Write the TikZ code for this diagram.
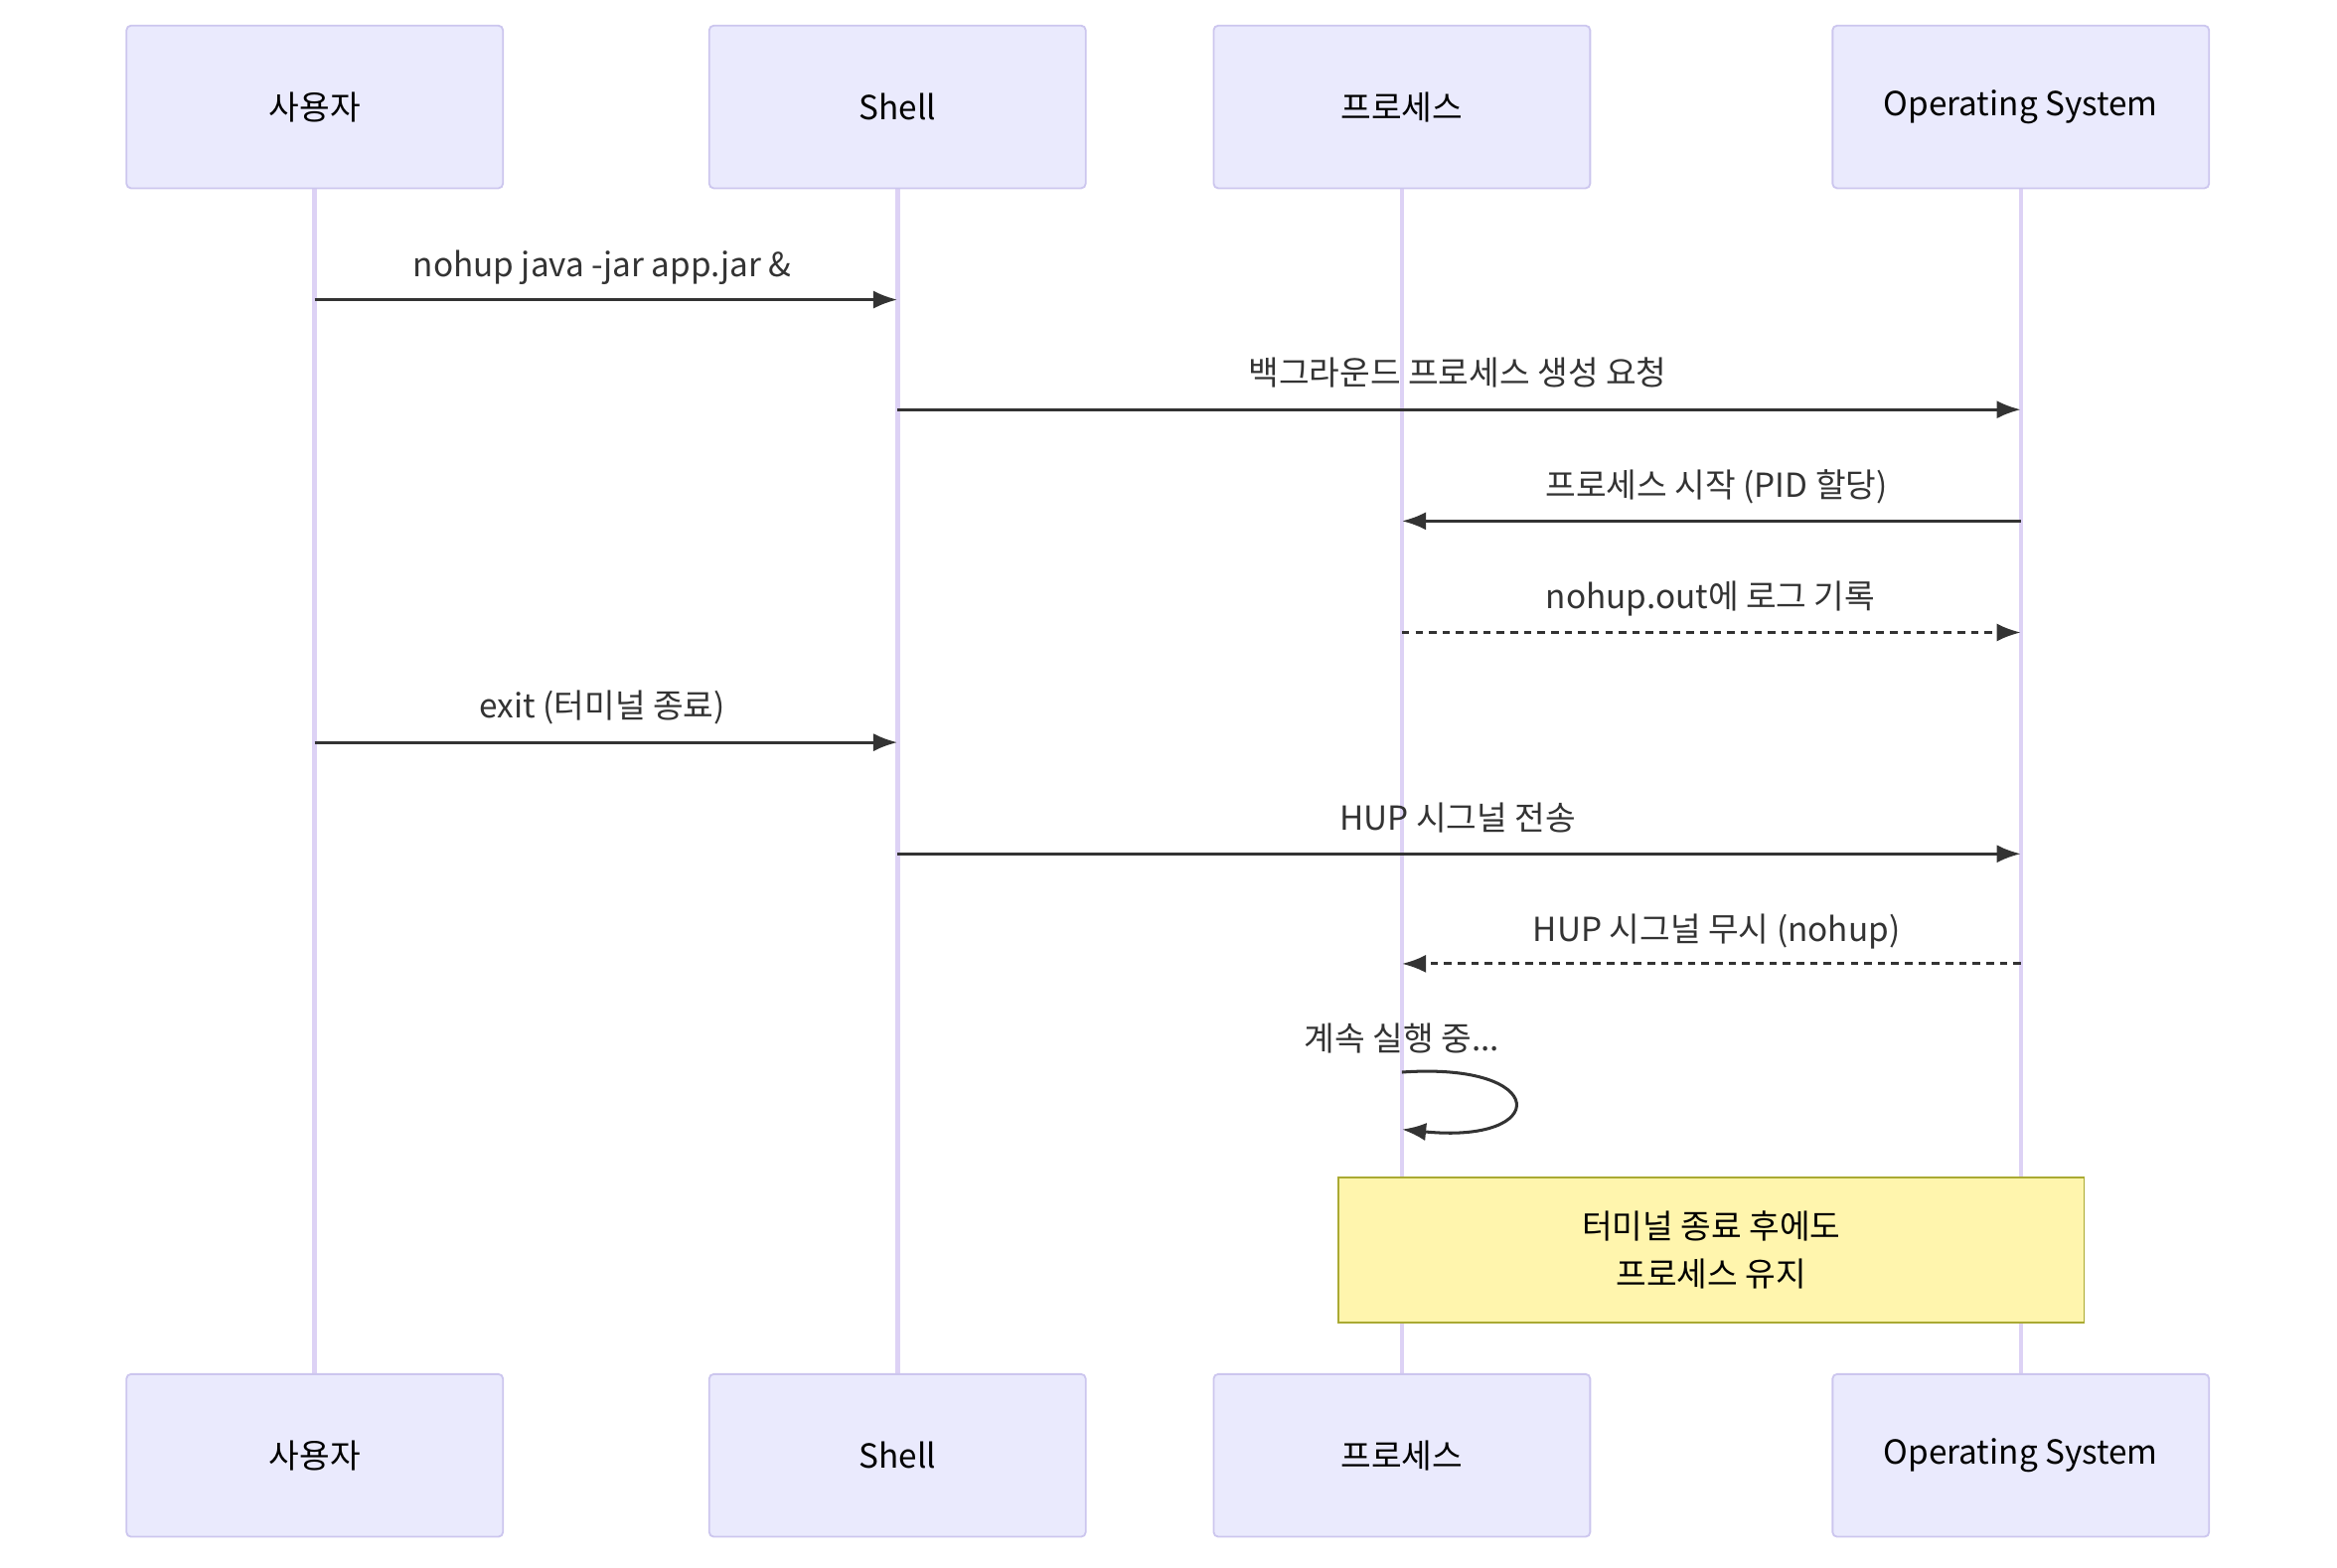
\documentclass[tikz,border=0pt]{standalone}
\usepackage{fontspec}
\setmainfont{Noto Sans CJK KR}
\usetikzlibrary{arrows.meta}
\definecolor{actf}{HTML}{EAEAFD}
\definecolor{actd}{HTML}{CCC6EE}
\definecolor{lifel}{HTML}{DDD2F5}
\definecolor{ink}{HTML}{333333}
\definecolor{notef}{HTML}{FFF5AD}
\definecolor{noted}{HTML}{AAAA33}
\begin{document}
\begin{tikzpicture}[x=1pt,y=-1pt,
 actor/.style={draw=actd,fill=actf,line width=1.2pt,rounded corners=3pt,minimum width=250pt,minimum height=108pt,font=\fontsize{22}{26}\selectfont,text=black},
 life/.style={draw=lifel,line width=3pt},
 msg/.style={draw=ink,line width=2pt,-{Latex[length=16pt,width=12pt]}},
 dmsg/.style={msg,dash pattern=on 5pt off 4pt},
 lbl/.style={font=\fontsize{22}{26}\selectfont,text=ink,anchor=base}]
\useasboundingbox (0,0) rectangle (1552,1041);
\foreach \n/\x/\t in {a/209/사용자,b/596/Shell,c/931/프로세스,d/1342/Operating System}{
 \draw[life] (\x,125) -- (\x,913);
 \node[actor] (\n t) at (\x,71) {\t};
 \node[actor] (\n b) at (\x,966.5) {\t};
}
\foreach \n/\x in {a/209,b/596,c/931,d/1342}{
 \foreach \y in {199,272,346,420,493,567,640,712,750}{\coordinate (\n\y) at (\x,\y);}}
\draw[msg] (a199) -- (b199);
\node[lbl] at (400,184) {nohup java -jar app.jar \&};
\draw[msg] (b272) -- (d272);
\node[lbl] at (968,256) {백그라운드 프로세스 생성 요청};
\draw[msg] (d346) -- (c346);
\node[lbl] at (1140,330) {프로세스 시작 (PID 할당)};
\draw[dmsg] (c420) -- (d420);
\node[lbl] at (1136,404) {nohup.out에 로그 기록};
\draw[msg] (a493) -- (b493);
\node[lbl] at (400,477) {exit (터미널 종료)};
\draw[msg] (b567) -- (d567);
\node[lbl] at (968,551) {HUP 시그널 전송};
\draw[dmsg] (d640) -- (c640);
\node[lbl] at (1140,625) {HUP 시그널 무시 (nohup)};
\draw[msg] (c712) .. controls (1030,705) and (1030,760) .. (c750);
\node[lbl] at (931,698) {계속 실행 중...};
\node[draw=noted,fill=notef,line width=1.2pt,minimum width=495pt,minimum height=96pt,align=center,font=\fontsize{22}{32}\selectfont] (n) at (1136.5,830) {터미널 종료 후에도\\프로세스 유지};
\end{tikzpicture}
\end{document}
